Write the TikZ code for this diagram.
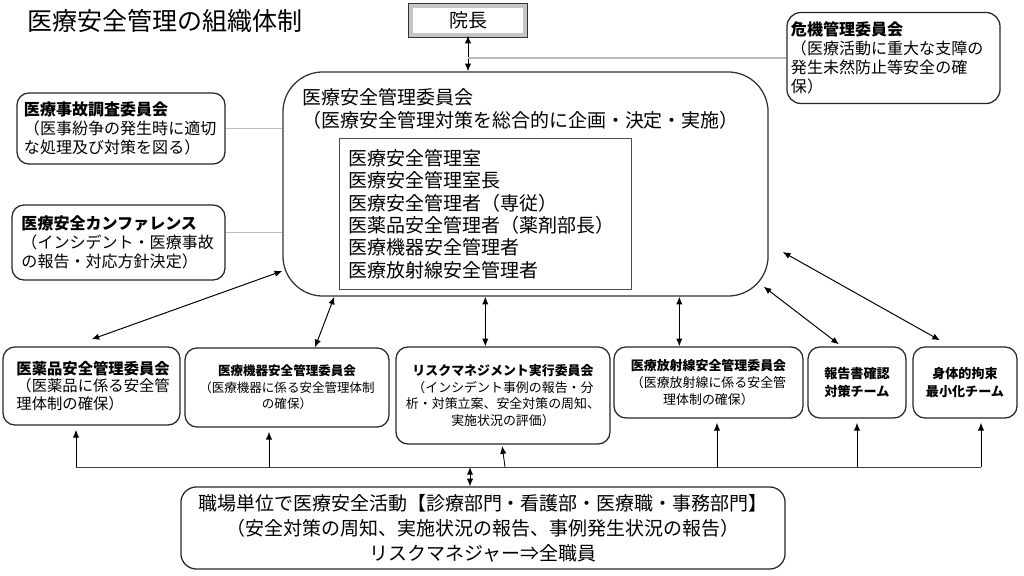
\documentclass[tikz,border=0pt]{standalone}
\usepackage{fontspec}
\setmainfont{Noto Sans CJK JP}
\usetikzlibrary{arrows.meta,calc}

\begin{document}
\begin{tikzpicture}[x=0.025cm, y=-0.025cm, >={Latex[length=5.5pt,width=4.5pt]},
    box/.style={draw=black!85, line width=0.9pt, rounded corners=8.5pt, inner sep=0pt},
    side/.style={box, font=\fontsize{11.4}{13.5}\selectfont, align=left},
    unit/.style={box, font=\fontsize{9.2}{11.9}\selectfont, align=center},
    team/.style={box, font=\bfseries\fontsize{9.3}{13.3}\selectfont, align=center,
        minimum width=2.45cm, minimum height=1.775cm},
    dbl/.style={<->, line width=0.7pt},
    uparrow/.style={->, line width=0.6pt, shorten >=3pt},
    graylink/.style={gray!55, line width=0.8pt},
    busline/.style={black!75, line width=0.6pt}]
    \useasboundingbox (0,0) rectangle (1024,576);

    % title
    \node[anchor=west, inner sep=0pt, font=\fontsize{17.8}{20}\selectfont] (title) at (27,21) {医療安全管理の組織体制};

    % top
    \node[draw=black!80, double=gray!45, double distance=3pt, fill=white,
        minimum width=2.865cm, minimum height=0.74cm, inner sep=0pt,
        font=\fontsize{13.5}{15}\selectfont] (director) at (468,20.5) {院長};
    \node[side, rounded corners=10pt, minimum width=5.325cm, minimum height=2.275cm,
        text width=5.125cm] (crisis) at (893.5,58)
        {\textbf{危機管理委員会}\\（医療活動に重大な支障の\\発生未然防止等安全の確\\保）};

    % committee
    \node[box, draw=black!80, rounded corners=1cm, minimum width=12.125cm, minimum height=5.6cm] (committee) at (525.5,184) {};
    \node[anchor=north west, inner sep=0pt, align=left, font=\fontsize{13.5}{16.4}\selectfont] (committeetext) at (302,88)
        {医療安全管理委員会\\（医療安全管理対策を総合的に企画・決定・実施）};
    \node[draw=black!70, line width=0.7pt, inner sep=0pt, minimum width=7.275cm, minimum height=3.75cm,
        text width=6.85cm, align=left, font=\fontsize{13.5}{15.9}\selectfont] (office) at (485.5,214)
        {医療安全管理室\\医療安全管理室長\\医療安全管理者（専従）\\医薬品安全管理者（薬剤部長）\\医療機器安全管理者\\医療放射線安全管理者};

    % left side
    \node[side, minimum width=5.2cm, minimum height=1.775cm, text width=4.85cm] (accident) at (121,128.5)
        {\textbf{医療事故調査委員会}\\（医事紛争の発生時に適切\\な処理及び対策を図る）};
    \node[side, minimum width=5.325cm, minimum height=1.875cm, text width=4.85cm] (conference) at (118.5,242.5)
        {\textbf{医療安全カンファレンス}\\（インシデント・医療事故\\の報告・対応方針決定）};

    % committees row
    \node[box, font=\fontsize{10.9}{12.2}\selectfont, align=left, text width=3.75cm,
        minimum width=4.425cm, minimum height=1.95cm] (drugs) at (91.5,386)
        {\textbf{医薬品安全管理委員会}\\（医薬品に係る安全管\\理体制の確保）};
    \node[unit, font=\fontsize{8.9}{11.8}\selectfont, minimum width=5.1cm, minimum height=1.975cm] (devices) at (287,387.5)
        {\textbf{医療機器安全管理委員会}\\（医療機器に係る安全管理体制\\の確保）};
    \node[unit, minimum width=5.35cm, minimum height=2.425cm] (risk) at (503,395.5)
        {\textbf{リスクマネジメント実行委員会}\\（インシデント事例の報告・分\\析・対策立案、安全対策の周知、\\実施状況の評価）};
    \node[unit, minimum width=4.725cm, minimum height=1.775cm] (radiation) at (708.5,382.5)
        {\textbf{医療放射線安全管理委員会}\\（医療放射線に係る安全管\\理体制の確保）};
    \node[team] (report) at (857,382.5) {報告書確認\\対策チーム};
    \node[team, minimum width=2.6cm] (restraint) at (965,382.5) {身体的拘束\\最小化チーム};

    % bottom
    \node[box, rounded corners=11pt, minimum width=15.1cm, minimum height=2.05cm, align=center,
        font=\fontsize{13.5}{17.8}\selectfont] (staff) at (483,528)
        {職場単位で医療安全活動【診療部門・看護部・医療職・事務部門】\\（安全対策の周知、実施状況の報告、事例発生状況の報告）\\リスクマネジャー⇒全職員};

    % links
    \draw[dbl] (director.south) -- (director.south |- committee.north);
    \draw[graylink] (director.south |- crisis.west) -- (crisis.west);
    \draw[graylink] (accident.east) -- (accident.east -| committee.west);
    \coordinate (cf) at ([yshift=7pt]conference.east);
    \draw[graylink] (cf) -- (cf -| committee.west);

    \draw[dbl] ($(drugs.north)+(0,-7)$) -- ($(committee.west)+(0,87)$);
    \draw[dbl] ($(devices.north)+(28,0)$) -- ($(committee.south west)+(52,0)$);
    \coordinate (rk) at ($(committee.south west)+(203,0)$);
    \draw[dbl] (rk) -- (rk |- risk.north);
    \coordinate (rd) at ($(committee.south west)+(397,0)$);
    \draw[dbl] (rd) -- (rd |- radiation.north);
    \draw[dbl] ($(committee.south east)+(-5,-10)$) -- ($(report.north)+(-18,-2)$);
    \draw[dbl] ($(committee.east)+(14,68)$) -- ($(restraint.north)+(-25,-6)$);

    % bus
    \coordinate (busleft) at (76,467);
    \coordinate (busright) at (981,467);
    \draw[busline] (busleft) -- (busright);
    \foreach \x/\n in {76/drugs, 269/devices, 717/radiation, 857/report, 981/restraint}
        \draw[uparrow] (\x,467) -- (\x,467 |- \n.south);
    \draw[uparrow, shorten >=1pt] (505,467) -- ($(risk.south)+(-1,0)$);
    \draw[dbl] (470,467) -- (470,467 |- staff.north);
\end{tikzpicture}
\end{document}
